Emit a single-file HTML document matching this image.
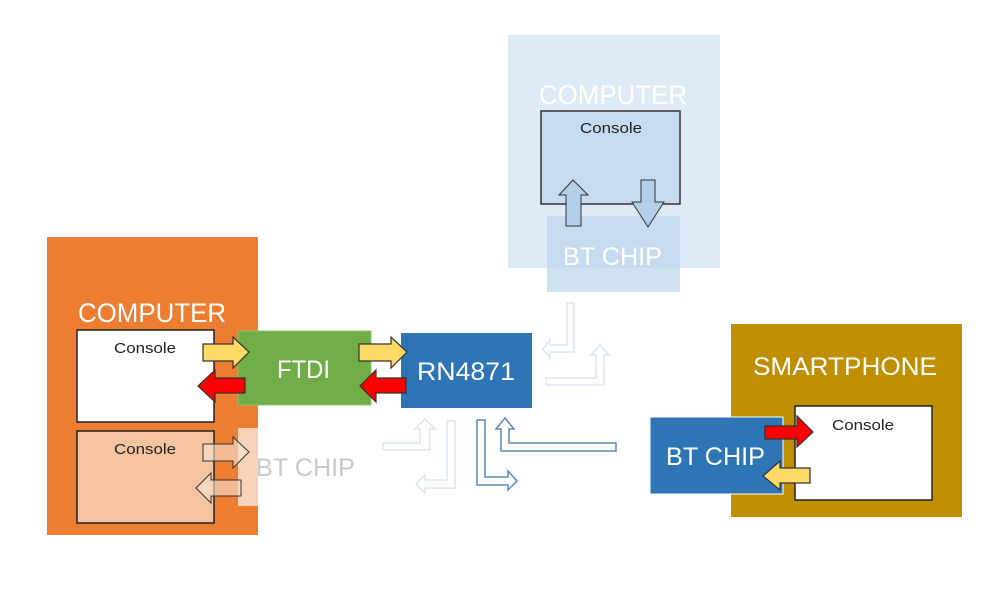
<!DOCTYPE html>
<html><head><meta charset="utf-8"><style>
html,body{margin:0;padding:0;background:#fff;}
svg{display:block;}
text{font-family:"Liberation Sans",sans-serif;}
</style></head><body>
<svg width="1000" height="595" viewBox="0 0 1000 595" xmlns="http://www.w3.org/2000/svg">
<!-- Top faded computer -->
<rect x="508" y="35" width="212" height="233" fill="#deebf6"/>
<text x="539" y="104" font-size="27" fill="#fff" textLength="148" lengthAdjust="spacingAndGlyphs">COMPUTER</text>
<rect x="541" y="111" width="139" height="93" fill="#c6dbef" stroke="#333" stroke-width="1.5"/>
<text x="580" y="133" font-size="15" fill="#222" textLength="62" lengthAdjust="spacingAndGlyphs">Console</text>
<rect x="547" y="216" width="133" height="76" fill="#bcd4ec" opacity="0.7"/>
<text x="563" y="265" font-size="25" fill="#fff" textLength="99" lengthAdjust="spacingAndGlyphs">BT CHIP</text>
<polygon points="566,226 566,195 559,195 573,180 588,195 581,195 581,226" fill="#b4cfea" stroke="#333" stroke-width="1"/>
<polygon points="641,180 655,180 655,202 664,202 648,227 632,202 641,202" fill="#b4cfea" stroke="#333" stroke-width="1"/>

<!-- Left computer -->
<rect x="47" y="237" width="211" height="298" fill="#ed7d31"/>
<text x="78" y="322" font-size="27" fill="#fff" textLength="148" lengthAdjust="spacingAndGlyphs">COMPUTER</text>
<rect x="77" y="330" width="137" height="92" fill="#fff" stroke="#222" stroke-width="1.5"/>
<text x="114" y="353" font-size="15" fill="#222" textLength="62" lengthAdjust="spacingAndGlyphs">Console</text>
<rect x="77" y="431" width="137" height="92" fill="#f6c3a0" stroke="#222" stroke-width="1.5"/>
<text x="114" y="454" font-size="15" fill="#222" textLength="62" lengthAdjust="spacingAndGlyphs">Console</text>
<rect x="238" y="428" width="20" height="78" fill="#f8d3b8"/>
<text x="256" y="476" font-size="25" fill="#c9c9c9" textLength="99" lengthAdjust="spacingAndGlyphs">BT CHIP</text>
<polygon points="203,444 233,444 233,437 249,452 233,468 233,461 203,461" fill="#f8e3d6" fill-opacity="0.6" stroke="#333" stroke-width="1"/>
<polygon points="241,480 211,480 211,473 196,488 211,503 211,496 241,496" fill="#f8e3d6" fill-opacity="0.6" stroke="#333" stroke-width="1"/>

<!-- FTDI -->
<rect x="238" y="331" width="133" height="74" fill="#70ad47" stroke="#8fc06a" stroke-width="1"/>
<text x="277" y="378" font-size="25" fill="#fff" textLength="53" lengthAdjust="spacingAndGlyphs">FTDI</text>
<!-- RN4871 -->
<rect x="401" y="333" width="131" height="75" fill="#2e75b6"/>
<text x="417" y="380" font-size="25" fill="#fff" textLength="98" lengthAdjust="spacingAndGlyphs">RN4871</text>

<!-- yellow / red arrows -->
<polygon points="203,344 233,344 233,337 249,352 233,368 233,361 203,361" fill="#ffd966" stroke="#333" stroke-width="1.2"/>
<polygon points="245,378 215,378 215,370 198,386 215,402 215,393 245,393" fill="#ff0000" stroke="#333" stroke-width="1.2"/>
<polygon points="359,344 391,344 391,337 407,352 391,368 391,361 359,361" fill="#ffd966" stroke="#333" stroke-width="1.2"/>
<polygon points="406,378 376,378 376,370 360,386 376,402 376,393 406,393" fill="#ff0000" stroke="#333" stroke-width="1.2"/>

<!-- faint L arrows -->
<g fill="none" stroke="#dbe6f1" stroke-width="1.5">
<polygon points="567,303 574,303 574,352 550,352 550,358 543,349 550,340 550,345 567,345"/>
<polygon points="546,378 596,378 596,355 591,355 600,345 609,355 604,355 604,385 546,385"/>
<polygon points="383,443 420,443 420,429 415,429 425,419 435,429 430,429 430,450 383,450"/>
<polygon points="447,421 455,421 455,488 425,488 425,493 416,484 425,475 425,480 447,480"/>
</g>
<g fill="none" stroke="#5b87b8" stroke-width="1.5">
<polygon points="477,420 485,420 485,477 508,477 508,471 517,481 508,490 508,485 477,485"/>
<polygon points="616,443 616,451 501,451 501,429 496,429 505,418 514,429 509,429 509,443"/>
</g>

<!-- Smartphone -->
<rect x="731" y="324" width="231" height="193" fill="#bf8f00"/>
<text x="753" y="375" font-size="25" fill="#fff" textLength="184" lengthAdjust="spacingAndGlyphs">SMARTPHONE</text>
<rect x="795" y="406" width="137" height="94" fill="#fff" stroke="#222" stroke-width="1.5"/>
<text x="832" y="430" font-size="15" fill="#222" textLength="62" lengthAdjust="spacingAndGlyphs">Console</text>
<rect x="650" y="417" width="133" height="77" fill="#2e75b6" stroke="#fff" stroke-width="1"/>
<text x="666" y="465" font-size="25" fill="#fff" textLength="99" lengthAdjust="spacingAndGlyphs">BT CHIP</text>
<polygon points="765,426 797,426 797,416 813,432 797,447 797,439 765,439" fill="#ff0000" stroke="#333" stroke-width="1.2"/>
<polygon points="810,468 780,468 780,461 763,476 780,490 780,483 810,483" fill="#ffd966" stroke="#333" stroke-width="1.2"/>
</svg>
</body></html>
